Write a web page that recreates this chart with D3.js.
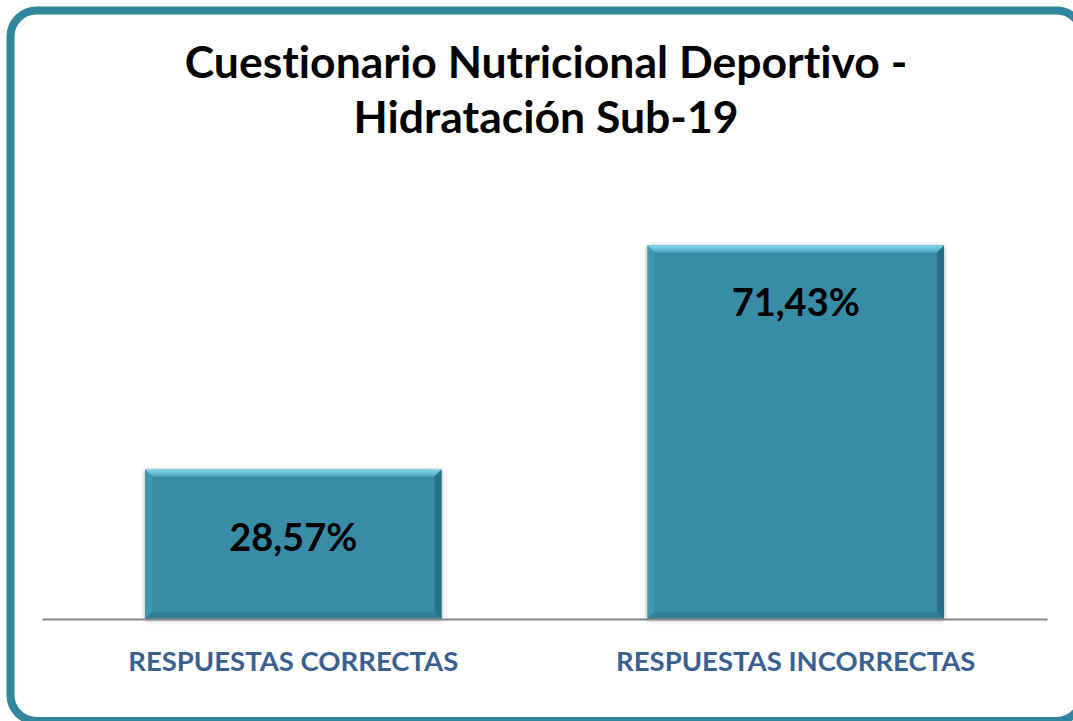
<!DOCTYPE html>
<html>
<head>
<meta charset="utf-8">
<script src="https://cdn.jsdelivr.net/npm/d3@7"></script>
<style>
  html, body { margin: 0; padding: 0; background: #ffffff; }
  svg { display: block; }
  text { font-variant-ligatures: none; font-feature-settings: "liga" 0, "clig" 0; }
</style>
</head>
<body>
<svg id="chart" width="1073" height="721"></svg>
<script>
// Survey results: share of correct vs. incorrect answers
const categories = ["RESPUESTAS CORRECTAS", "RESPUESTAS INCORRECTAS"];
const values = [28.57, 71.43];
const valueLabels = ["28,57%", "71,43%"];
const titleLines = ["Cuestionario Nutricional Deportivo -", "Hidratación Sub-19"];

const W = 1073, H = 721;
const svg = d3.select("#chart");
const FONT = "Lato, 'Open Sans', sans-serif";

const defs = svg.append("defs");
const shadow = defs.append("filter").attr("id", "barShadow")
  .attr("x", "-10%").attr("y", "-10%").attr("width", "120%").attr("height", "120%");
shadow.append("feGaussianBlur").attr("in", "SourceAlpha").attr("stdDeviation", 2.5).attr("result", "b");
shadow.append("feOffset").attr("in", "b").attr("dx", 0).attr("dy", 1).attr("result", "o");
shadow.append("feComponentTransfer").attr("in", "o").attr("result", "s")
  .append("feFuncA").attr("type", "linear").attr("slope", 0.35);
const m = shadow.append("feMerge");
m.append("feMergeNode").attr("in", "s");
m.append("feMergeNode").attr("in", "SourceGraphic");

const topGrad = defs.append("linearGradient").attr("id", "bevelTop")
  .attr("x1", 0).attr("y1", 0).attr("x2", 0).attr("y2", 1);
topGrad.append("stop").attr("offset", "0%").attr("stop-color", "#86d6ee");
topGrad.append("stop").attr("offset", "100%").attr("stop-color", "#4aa7c2");

// Frame
svg.append("rect")
  .attr("x", 10.5).attr("y", 10.5)
  .attr("width", 1072).attr("height", 710.5)
  .attr("rx", 26).attr("ry", 26)
  .attr("fill", "#ffffff")
  .attr("stroke", "#31859c").attr("stroke-width", 8);

// Title
svg.append("text")
  .attr("x", 546).attr("y", 78)
  .attr("text-anchor", "middle")
  .attr("font-family", FONT).attr("font-weight", "bold")
  .attr("font-size", 44.5).attr("fill", "#000")
  .selectAll("tspan").data(titleLines).join("tspan")
  .attr("x", 546).attr("dy", (d, i) => i === 0 ? 0 : 55)
  .text(d => d);

// Scales
const x = d3.scaleBand().domain(categories).range([42, 1047])
  .paddingInner(0.41).paddingOuter(0.205);
const y = d3.scaleLinear().domain([0, 80]).range([619, 200.6]);

const bw = x.bandwidth();
const bev = 7;

const bars = svg.append("g").selectAll("g").data(categories).join("g")
  .attr("filter", "url(#barShadow)");

bars.each(function(c, i) {
  const g = d3.select(this);
  const x0 = x(c), x1 = x0 + bw;
  const y0 = y(values[i]), y1 = y(0);
  g.append("rect").attr("x", x0).attr("y", y0).attr("width", bw).attr("height", y1 - y0)
    .attr("fill", "#378ca6");
  // top bevel
  g.append("path").attr("d", `M${x0},${y0}L${x1},${y0}L${x1 - bev},${y0 + bev}L${x0 + bev},${y0 + bev}Z`)
    .attr("fill", "url(#bevelTop)");
  // left bevel
  g.append("path").attr("d", `M${x0},${y0}L${x0 + bev},${y0 + bev}L${x0 + bev},${y1 - bev}L${x0},${y1}Z`)
    .attr("fill", "#3f97b1");
  // right bevel
  g.append("path").attr("d", `M${x1},${y0}L${x1},${y1}L${x1 - bev},${y1 - bev}L${x1 - bev},${y0 + bev}Z`)
    .attr("fill", "#2b6f85");
  // bottom bevel
  g.append("path").attr("d", `M${x0},${y1}L${x1},${y1}L${x1 - bev},${y1 - bev}L${x0 + bev},${y1 - bev}Z`)
    .attr("fill", "#327f97");
});

// Baseline axis
svg.append("g")
  .attr("transform", `translate(0,${y(0)})`)
  .call(d3.axisBottom(x).tickSize(0).tickFormat(""))
  .call(g => g.select(".domain").attr("stroke", "#868686").attr("stroke-width", 2.2))
  .call(g => g.selectAll(".tick").remove());

// Category labels
svg.append("g").selectAll("text").data(categories).join("text")
  .attr("x", d => x(d) + bw / 2).attr("y", 671)
  .attr("text-anchor", "middle")
  .attr("font-family", FONT).attr("font-weight", "bold")
  .attr("font-size", 27.5).attr("fill", "#3a6091")
  .text(d => d);

// Value labels
svg.append("g").selectAll("text").data(values).join("text")
  .attr("x", (d, i) => x(categories[i]) + bw / 2)
  .attr("y", d => {
    const top = y(d), h = y(0) - top;
    return h > 250 ? top + 71 : top + h / 2 + 7;
  })
  .attr("text-anchor", "middle")
  .attr("font-family", FONT).attr("font-weight", "bold")
  .attr("font-size", 38).attr("fill", "#000")
  .text((d, i) => valueLabels[i]);
</script>
</body>
</html>
